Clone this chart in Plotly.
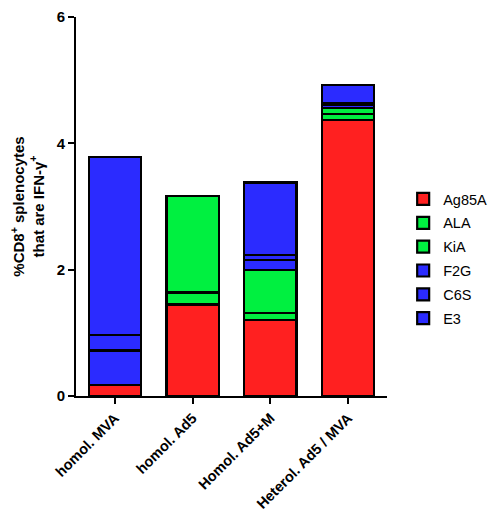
import plotly.graph_objects as go

categories = ["homol. MVA", "homol. Ad5", "Homol. Ad5+M", "Heterol. Ad5 / MVA"]
antigens = ["Ag85A", "ALA", "KiA", "F2G", "C6S", "E3"]
ag85a = [0.17, 1.45, 1.20, 4.37]
ala = [0.0, 0.19, 0.12, 0.09]
kia = [0.0, 1.52, 0.67, 0.10]
f2g = [0.55, 0.0, 0.16, 0.05]
c6s = [0.24, 0.0, 0.08, 0.03]
e3 = [2.82, 0.0, 1.15, 0.28]
series = [ag85a, ala, kia, f2g, c6s, e3]
colors = ["#FF2020", "#00F040", "#00F040", "#2B2BFF", "#2B2BFF", "#2B2BFF"]
y_ticks = [0, 2, 4, 6]

fig = go.Figure()
for i, (name, vals, col) in enumerate(zip(antigens, series, colors)):
    fig.add_trace(go.Bar(
        x=categories, y=vals, name=name, legendgroup=name,
        marker=dict(color=col, line=dict(color="black", width=2.2)),
        width=0.67,
    ))

font_fam = "Liberation Sans, Arial, sans-serif"
fig.update_layout(
    barmode="stack",
    width=480, height=503,
    margin=dict(l=68, r=101, t=9, b=115, autoexpand=False),
    plot_bgcolor="white", paper_bgcolor="white",
    font=dict(family=font_fam, color="black", size=14),
    showlegend=True,
    legend=dict(x=1.052, y=0.562, xanchor="left", yanchor="top",
                traceorder="grouped", tracegroupgap=2,
                font=dict(size=14.5, family=font_fam),
                bgcolor="rgba(0,0,0,0)"),
    xaxis=dict(
        range=[-0.5, 3.5], showline=True, linecolor="black", linewidth=2,
        ticks="outside", ticklen=6, tickwidth=2, tickcolor="black",
        tickangle=-45, tickfont=dict(size=14.5, family=font_fam, weight="bold"),
        showgrid=False, zeroline=False, automargin=False,
    ),
    yaxis=dict(
        range=[0, 6], tickvals=y_ticks, showline=True, linecolor="black", linewidth=2,
        ticks="outside", ticklen=6, tickwidth=2, tickcolor="black",
        tickfont=dict(size=15, family=font_fam, weight="bold"),
        ticklabeloverflow="allow",
        showgrid=False, zeroline=False, automargin=False,
        title=dict(text="%CD8<sup>+</sup> splenocytes<br>that are IFN-γ<sup>+</sup>",
                   font=dict(size=15, family=font_fam, weight="bold"), standoff=10),
    ),
)
fig.write_html("out.html")
